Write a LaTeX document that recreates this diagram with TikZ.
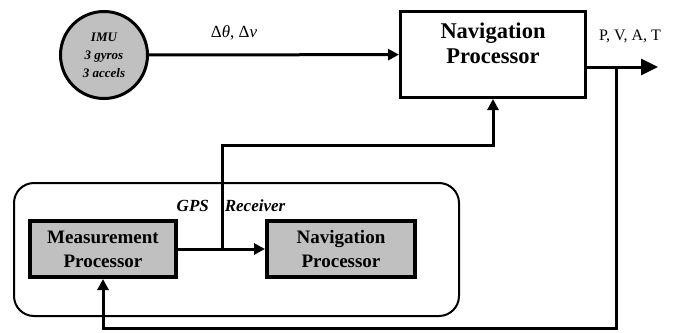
\documentclass[tikz,border=0pt]{standalone}
\usepackage{fontspec}
\setmainfont{Liberation Serif}
\usetikzlibrary{positioning, arrows.meta}
\definecolor{boxgray}{RGB}{192,192,192}

\tikzset{
    blk/.style={draw, line width=3pt, font=\bfseries\fontsize{22.5}{25}\selectfont, align=center},
    gpsblk/.style={draw, line width=4pt, fill=boxgray, font=\bfseries\fontsize{19}{24}\selectfont, align=center, minimum height=56pt},
    sig/.style={line width=3pt, -{Triangle[length=11pt, width=11pt]}}
}

\begin{document}
\begin{tikzpicture}[x=1pt, y=-1pt]
    \useasboundingbox (0,0) rectangle (679,332);
    \node (imu) [circle,
        draw,
        line width=3pt,
        fill=boxgray,
        minimum size=87pt,
        inner sep=0pt,
        align=center,
        font=\bfseries\itshape\fontsize{13}{18}\selectfont] at (104,55) {IMU\\3 gyros\\3 accels};
    \node (nav) [blk, minimum width=185pt, minimum height=86pt, text depth=22pt] at (493,54.5) {Navigation\\Processor};
    \node (pvat) [font=\fontsize{16}{18}\selectfont] at (630,36) {P, V, A, T};

    % GPS receiver
    \node (gps) [draw, line width=2pt, rounded corners=20pt, minimum width=445pt, minimum height=133pt] at (236.5,249.5) {};
    \node (gpslbl) [font=\bfseries\itshape\fontsize{17}{20}\selectfont] at (231,206) {GPS\hspace{16pt}Receiver};
    \node (meas) [gpsblk, minimum width=146pt] at (103,249) {Measurement\\Processor};
    \node (nav2) [gpsblk, minimum width=148pt] at (341,249) {Navigation\\Processor};

    \coordinate (out) at (658,67);
    \coordinate (tap) at (616,67);
    \coordinate (fb) at (616,328);
    \coordinate (split) at (222,248);
    \coordinate (bend) at (222,145);

    \draw [sig] (imu) -- node [pos=0.34, above=10pt, font=\fontsize{17}{20}\selectfont] {Δ\textit{θ}, Δ\textit{v}} (nav);
    \draw [line width=3pt, -{Triangle[length=17pt, width=16pt]}] (nav.east |- out) -- (out);
    \draw [sig] (meas) -- (nav2);
    \draw [sig] (split) -- (bend) -| (nav.south);
    \draw [sig] (tap) -- (fb) -| (meas.south);
\end{tikzpicture}
\end{document}
